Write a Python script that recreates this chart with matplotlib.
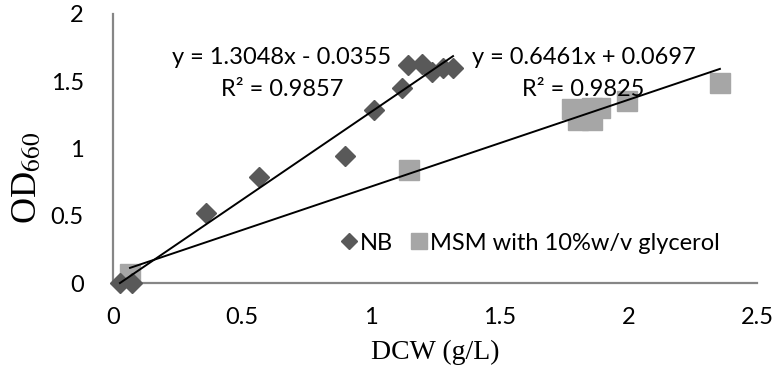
import matplotlib
matplotlib.use("Agg")
import matplotlib.pyplot as plt
import numpy as np

# Data
nb_dcw = [0.027, 0.074, 0.361, 0.568, 0.900, 1.013, 1.123, 1.146, 1.198, 1.237, 1.281, 1.320]
nb_od = [0.0, 0.0, 0.52, 0.79, 0.946, 1.286, 1.447, 1.62, 1.63, 1.57, 1.60, 1.60]
msm_dcw = [0.066, 1.149, 1.780, 1.805, 1.858, 1.860, 1.890, 1.997, 2.356]
msm_od = [0.067, 0.84, 1.29, 1.21, 1.30, 1.21, 1.30, 1.355, 1.49]

nb_fit = (1.3048, -0.0355)
msm_fit = (0.6461, 0.0697)
nb_eq = ["y = 1.3048x - 0.0355", "R² = 0.9857"]
msm_eq = ["y = 0.6461x + 0.0697", "R² = 0.9825"]

x_ticks = [0, 0.5, 1, 1.5, 2, 2.5]
x_ticklabels = ["0", "0.5", "1", "1.5", "2", "2.5"]
y_ticks = [0, 0.5, 1, 1.5, 2]
y_ticklabels = ["0", "0.5", "1", "1.5", "2"]
series_names = ["NB", "MSM with 10%w/v glycerol"]

plt.rcParams["mathtext.fontset"] = "stix"

W, H = 776, 381
fig = plt.figure(figsize=(W / 100, H / 100), dpi=100)
ax = fig.add_axes([113 / W, 1 - 283 / H, (757 - 113) / W, (283 - 14) / H])

sans = ["Lato", "DejaVu Sans"]
serif = ["Liberation Serif", "DejaVu Serif"]

dark = "#595959"
light = "#A6A6A6"

ax.plot(msm_dcw, msm_od, linestyle="none", marker="s", ms=14.5, color=light,
        mec=light, clip_on=False, zorder=3, label=series_names[1])
ax.plot(nb_dcw, nb_od, linestyle="none", marker="D", ms=10.5, color=dark,
        mec=dark, clip_on=False, zorder=4, label=series_names[0])

# trend lines spanning the data range
for xs, (m, b) in ((nb_dcw, nb_fit), (msm_dcw, msm_fit)):
    xx = np.array([min(xs), max(xs)])
    ax.plot(xx, m * xx + b, color="black", lw=1.4, zorder=5, clip_on=False)

ax.set_xlim(0, 2.5)
ax.set_ylim(0, 2)
ax.set_xticks(x_ticks)
ax.set_xticklabels(x_ticklabels)
ax.set_yticks(y_ticks)
ax.set_yticklabels(y_ticklabels)
ax.tick_params(length=0, labelsize=17, colors="black")
ax.tick_params(axis="x", pad=17)
ax.tick_params(axis="y", pad=21)
for lab in ax.get_xticklabels() + ax.get_yticklabels():
    lab.set_family(sans)

for s in ["top", "right"]:
    ax.spines[s].set_visible(False)
for s in ["left", "bottom"]:
    ax.spines[s].set_color("#868686")
    ax.spines[s].set_linewidth(1.6)

fig.text(435 / W, 1 - 352 / H, "DCW (g/L)", family=serif, fontsize=20,
         ha="center", va="center")
fig.text(28 / W, 1 - 178 / H, r"OD$_{660}$", family=serif, fontsize=26,
         ha="center", va="center", rotation=90)

eqfs = 17
fig.text(282 / W, 1 - 58 / H, nb_eq[0], family=sans, fontsize=eqfs, ha="center", va="center")
fig.text(282 / W, 1 - 90 / H, nb_eq[1], family=sans, fontsize=eqfs, ha="center", va="center")
fig.text(584 / W, 1 - 58 / H, msm_eq[0], family=sans, fontsize=eqfs, ha="center", va="center")
fig.text(583 / W, 1 - 90 / H, msm_eq[1], family=sans, fontsize=eqfs, ha="center", va="center")

handles, labels = ax.get_legend_handles_labels()
leg = ax.legend(handles[::-1], labels[::-1], loc="center",
                bbox_to_anchor=((530 - 113) / (757 - 113), (283 - 243) / (283 - 14)),
                ncol=2, frameon=False, prop={"family": sans, "size": 17},
                handlelength=0.75, handletextpad=0.12, columnspacing=0.7, markerscale=0.8)

fig.savefig("out.png", dpi=100)
